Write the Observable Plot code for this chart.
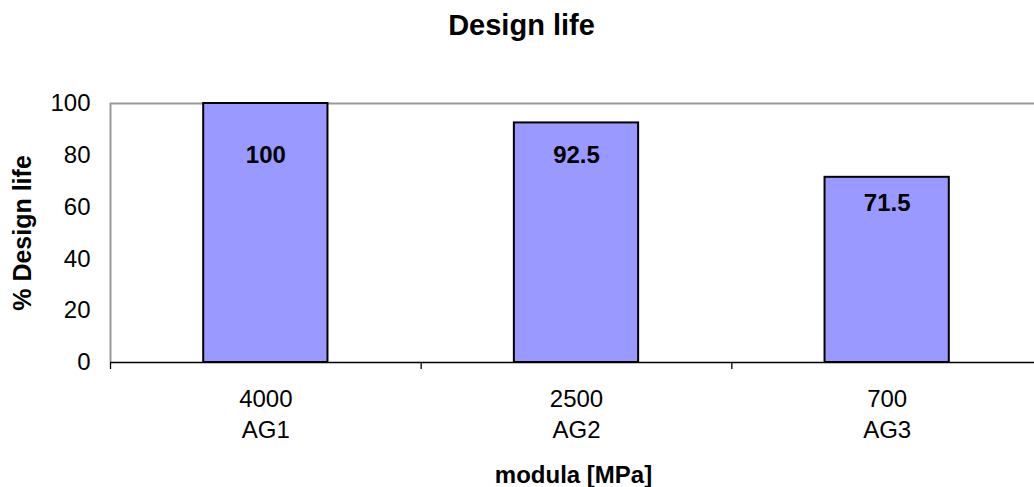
<!DOCTYPE html>
<html><head><meta charset="utf-8">
<script src="https://cdn.jsdelivr.net/npm/d3@7"></script>
<script src="https://cdn.jsdelivr.net/npm/@observablehq/plot@0.6"></script>
<style>
html,body{margin:0;padding:0;background:#fff;overflow:hidden;width:1034px;height:487px;}
</style></head><body><div id="chart"></div>
<script>
const title = "Design life";
const modulus = ["4000", "2500", "700"];
const mixes = ["AG1", "AG2", "AG3"];
const designLife = [100, 92.5, 71.5];
const yTicks = [0, 20, 40, 60, 80, 100];
const yLabel = "% Design life";
const xLabel = "modula [MPa]";

const data = designLife.map((v, i) => ({i, v, label: `${modulus[i]}\n${mixes[i]}`, text: String(v)}));
const font = "'Liberation Sans', Arial, sans-serif";

const plot = Plot.plot({
  width: 1042, height: 487,
  marginTop: 103, marginBottom: 125, marginLeft: 110, marginRight: 0,
  style: {fontFamily: font, fontSize: "24px", color: "#000", background: "#fff", maxWidth: "none", overflow: "visible"},
  x: {type: "linear", domain: [0, modulus.length], axis: null},
  y: {domain: [0, 100], axis: null},
  marks: [
    Plot.ruleY([100], {stroke: "#999", strokeWidth: 2}),
    Plot.ruleX([0], {stroke: "#999", strokeWidth: 2}),
    Plot.rectY(data, {x1: d => d.i + 0.3, x2: d => d.i + 0.7, y1: 0, y2: "v", fill: "#9999ff", stroke: "#000", strokeWidth: 2}),
    Plot.ruleY([0], {stroke: "#000", strokeWidth: 1.3}),
    Plot.axisX({ticks: d3.range(0, modulus.length + 1), tickSize: 7, tickFormat: () => "", label: null, stroke: "#000", strokeWidth: 1.3}),
    Plot.axisY({ticks: yTicks, tickSize: 0, tickPadding: 20, label: null, fontSize: 24}),
    Plot.text(data, {x: d => d.i + 0.5, frameAnchor: "bottom", text: "label", lineAnchor: "top", dy: 22, lineHeight: 1.31, fontSize: 24}),
    Plot.text(data, {x: d => d.i + 0.5, y: d => Math.min(d.v, 90) - 10, text: "text", fontWeight: "bold", fontSize: 24, lineAnchor: "middle"}),
    Plot.text([title], {frameAnchor: "top", lineAnchor: "middle", textAnchor: "middle", dx: -55, dy: -77.6, fontWeight: "bold", fontSize: 29}),
    Plot.text([xLabel], {frameAnchor: "bottom", lineAnchor: "middle", textAnchor: "middle", dx: -3, dy: 113, fontWeight: "bold", fontSize: 24}),
    Plot.text([yLabel], {frameAnchor: "left", lineAnchor: "middle", textAnchor: "middle", rotate: -90, dx: -88, fontWeight: "bold", fontSize: 25})
  ]
});
document.getElementById("chart").appendChild(plot);
</script></body></html>
